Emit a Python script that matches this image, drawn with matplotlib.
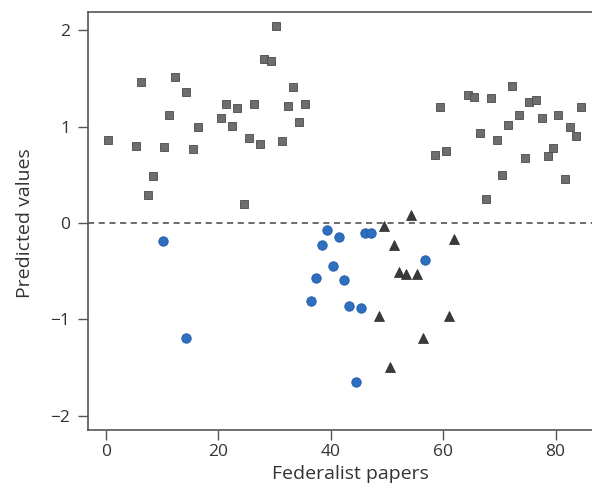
from matplotlib import pyplot as plt

# Papers attributed to Hamilton (grey squares).
hamilton_x = [0.4, 5.3, 6.2, 7.4, 8.4, 10.4, 11.2, 12.3, 14.3, 15.4, 16.4,
              20.4, 21.4, 22.4, 23.4, 24.6, 25.5, 26.3, 27.4, 28.1, 29.4,
              30.2, 31.4, 32.4, 33.3, 34.3, 35.4,
              58.6, 59.5, 60.5, 64.5, 65.5, 66.6, 67.7, 68.5, 69.6, 70.5,
              71.5, 72.3, 73.5, 74.6, 75.3, 76.5, 77.5, 78.6, 79.6, 80.5,
              81.7, 82.6, 83.6, 84.6]
hamilton_y = [0.86, 0.80, 1.46, 0.29, 0.49, 0.79, 1.12, 1.52, 1.36, 0.77, 1.00,
              1.09, 1.23, 1.01, 1.19, 0.20, 0.88, 1.23, 0.82, 1.70, 1.68,
              2.04, 0.85, 1.21, 1.41, 1.05, 1.23,
              0.71, 1.20, 0.75, 1.33, 1.31, 0.93, 0.25, 1.30, 0.86, 0.50,
              1.02, 1.42, 1.12, 0.67, 1.26, 1.28, 1.09, 0.69, 0.78, 1.12,
              0.46, 1.00, 0.90, 1.20]

# Papers attributed to Madison (blue circles).
madison_x = [10.1, 14.2, 36.5, 37.4, 38.4, 39.3, 40.4, 41.4, 42.3, 43.3,
             44.5, 45.4, 46.0, 47.2, 56.8]
madison_y = [-0.19, -1.19, -0.81, -0.57, -0.23, -0.07, -0.45, -0.15, -0.59,
             -0.86, -1.65, -0.88, -0.10, -0.10, -0.38]

# Disputed papers (dark triangles).
disputed_x = [48.5, 49.4, 50.5, 51.3, 52.2, 53.3, 54.2, 55.3, 56.4, 61.1, 61.9]
disputed_y = [-0.97, -0.03, -1.50, -0.23, -0.51, -0.53, 0.08, -0.53, -1.19,
              -0.97, -0.17]

x_ticks = [0, 20, 40, 60, 80]
y_ticks = [-2, -1, 0, 1, 2]
y_tick_labels = ['\u22122', '\u22121', '0', '1', '2']

plt.rcParams['font.family'] = ['Open Sans', 'DejaVu Sans']

fig = plt.figure(figsize = (5.92, 4.90), dpi = 100)
# Axes run past the right edge, as in the cropped scan.
ax = fig.add_axes([88 / 592, 60 / 490, 0.95, 418 / 490])

ax.axhline(0, color = '#444444', linestyle = (0, (4, 3)), linewidth = 1.1, zorder = 1)

ax.plot(hamilton_x, hamilton_y, 's', markersize = 5.6,
        markerfacecolor = '#6e6e6e', markeredgecolor = '#4a4a4a',
        markeredgewidth = 0.6, zorder = 3)
ax.plot(madison_x, madison_y, 'o', markersize = 6.8,
        markerfacecolor = '#2f6fc0', markeredgecolor = '#1f5aa6',
        markeredgewidth = 0.6, zorder = 3)
ax.plot(disputed_x, disputed_y, '^', markersize = 7,
        markerfacecolor = '#3a3a3a', markeredgecolor = '#2a2a2a',
        markeredgewidth = 0.5, zorder = 3)

# Axis ranges matched to the picture (x axis cropped on the right).
ax.set_xlim(-3.2, -3.2 + (0.95 * 592) / 5.62)
ax.set_ylim(-2.15, 2.19)

ax.set_xticks(x_ticks)
ax.set_yticks(y_ticks)
ax.set_yticklabels(y_tick_labels)
ax.tick_params(axis = 'both', direction = 'out', length = 7, width = 1,
               color = '#555555', labelcolor = '#333333', labelsize = 12.5)
ax.tick_params(axis = 'x', pad = 3)
ax.tick_params(axis = 'y', pad = 6)

for side in ['left', 'bottom', 'top', 'right']:
    ax.spines[side].set_color('#555555')
    ax.spines[side].set_linewidth(1.2)

ax.set_xlabel('Federalist papers', fontsize = 14, color = '#333333')
ax.set_ylabel('Predicted values', fontsize = 14, color = '#333333')
ax.xaxis.set_label_coords(0.466, -0.084)
ax.yaxis.set_label_coords(-0.096, 0.495)

plt.savefig('out.png', dpi = 100)
